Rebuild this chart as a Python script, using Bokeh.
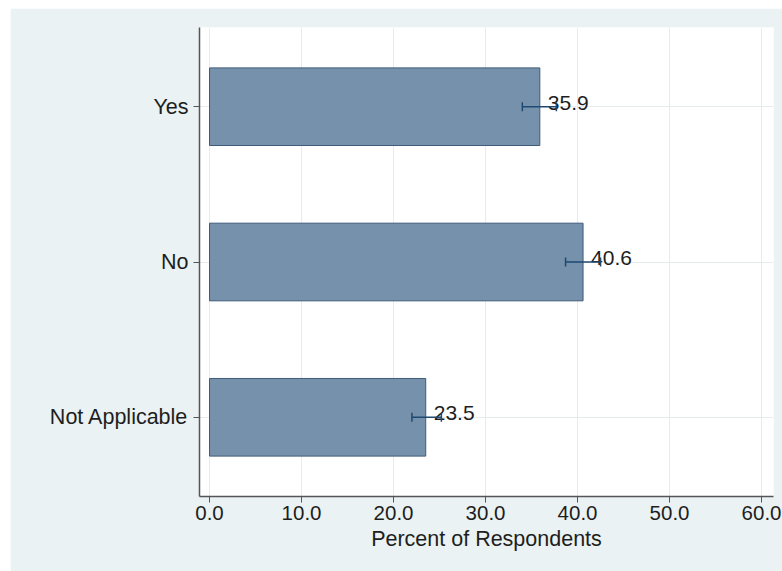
from bokeh.plotting import figure
from bokeh.models import ColumnDataSource, FixedTicker, NumeralTickFormatter, Range1d, Whisker, TeeHead
from bokeh.core.properties import value
from bokeh.embed import file_html
from bokeh.resources import INLINE

# Survey responses, listed top to bottom
categories = ["Yes", "No", "Not Applicable"]
percent = [35.9, 40.6, 23.5]
ci_lower = [34.0, 38.7, 22.0]
ci_upper = [37.7, 42.5, 25.2]
x_ticks = [0, 10, 20, 30, 40, 50, 60]

FONT = "Liberation Sans"
TEXT = "#1E1E1E"
BG = "#EAF2F3"
CI = "#1E4A72"

# categories sit at 3, 2, 1 so the first one is on top
ypos = [len(categories) - i for i in range(len(categories))]

src = ColumnDataSource(dict(
    y=ypos, cat=categories, pct=percent, lo=ci_lower, hi=ci_upper,
    lbl=[f"{v:.1f}" for v in percent],
))

p = figure(
    width=772, height=563, margin=(8, 0, 0, 10),
    output_backend="svg", toolbar_location=None,
    x_range=Range1d(-1.09, 61.3), y_range=Range1d(0.49, 3.51),
    min_border_left=189, min_border_right=9, min_border_top=19, min_border_bottom=75,
)
p.background_fill_color = "white"
p.border_fill_color = BG
p.outline_line_color = None

# grid
p.xgrid.ticker = FixedTicker(ticks=x_ticks)
p.ygrid.ticker = FixedTicker(ticks=ypos)
p.xgrid.grid_line_color = "#E4ECEE"
p.ygrid.grid_line_color = "#E4ECEE"

# bars
p.hbar(y="y", left=0, right="pct", height=0.5, source=src,
       fill_color="#7691AB", line_color="#3F5B78", line_width=1)

# confidence intervals, drawn on top of the bars
whisk = Whisker(
    base="y", lower="lo", upper="hi", dimension="width", source=src,
    line_color=CI, line_width=1.5, level="overlay",
    lower_head=TeeHead(size=9, line_color=CI, line_width=1.5),
    upper_head=TeeHead(size=9, line_color=CI, line_width=1.5),
)
p.add_layout(whisk)

# value labels
p.text(x="pct", y="y", text="lbl", source=src, x_offset=8, y_offset=-4,
       text_font=value(FONT), text_font_size="21px", text_color=TEXT,
       text_baseline="alphabetic", text_align="left")

# x axis
p.xaxis.ticker = FixedTicker(ticks=x_ticks)
p.xaxis.formatter = NumeralTickFormatter(format="0.0")
p.xaxis.axis_label = "Percent of Respondents"
p.xaxis.axis_label_text_font = FONT
p.xaxis.axis_label_text_font_style = "normal"
p.xaxis.axis_label_text_font_size = "21.5px"
p.xaxis.axis_label_text_color = TEXT
p.xaxis.axis_label_standoff = 4
p.xaxis.major_label_standoff = 3

# y axis
p.yaxis.ticker = FixedTicker(ticks=ypos)
p.yaxis.major_label_overrides = {y: c for y, c in zip(ypos, categories)}
p.yaxis.major_label_standoff = 5

for ax in (p.xaxis[0], p.yaxis[0]):
    ax.axis_line_color = "#555555"
    ax.axis_line_width = 1.5
    ax.major_tick_line_color = "#555555"
    ax.major_tick_in = 0
    ax.major_tick_out = 6
    ax.minor_tick_line_color = None
    ax.major_label_text_font = FONT
    ax.major_label_text_color = TEXT

p.xaxis.major_label_text_font_size = "20.5px"
p.yaxis.major_label_text_font_size = "21.5px"

open("out.html", "w").write(file_html(p, INLINE))
